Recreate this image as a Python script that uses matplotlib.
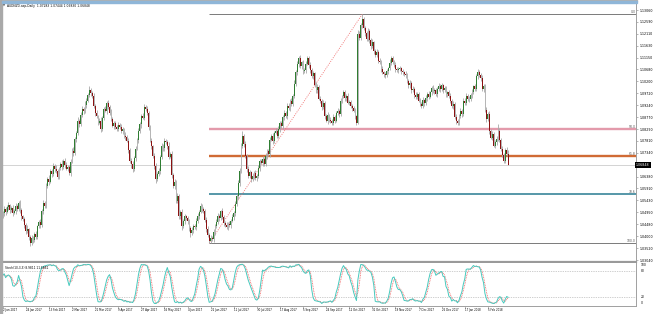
import numpy as np
import pandas as pd
import matplotlib
matplotlib.use("Agg")
import matplotlib.pyplot as plt
import matplotlib.transforms as mtransforms
from matplotlib.patches import Rectangle

title = "AUDNZD.asp,Daily  1.07283 1.07444 1.06830 1.06848"
stoch_title = "Stoch(10,3,3) 8.9811 11.5661"

# daily closes, one per bar (open = previous close)
first_open = 1.0480
closes = [
    1.0492, 1.0510, 1.0498, 1.0515, 1.0524, 1.0503, 1.0512, 1.0494, 1.0500, 1.0521,
    1.0509, 1.0532, 1.0505, 1.0480, 1.0468, 1.0445, 1.0419, 1.0428, 1.0396, 1.0371,
    1.0392, 1.0384, 1.0407, 1.0398, 1.0440, 1.0456, 1.0445, 1.0502, 1.0534, 1.0521,
    1.0601, 1.0629, 1.0618, 1.0661, 1.0647, 1.0681, 1.0670, 1.0660, 1.0638, 1.0672,
    1.0689, 1.0676, 1.0701, 1.0684, 1.0669, 1.0677, 1.0653, 1.0698, 1.0742, 1.0731,
    1.0790, 1.0812, 1.0863, 1.0849, 1.0885, 1.0911, 1.0902, 1.0926, 1.0943, 1.0967,
    1.0984, 1.0975, 1.0963, 1.0921, 1.0895, 1.0880, 1.0855, 1.0862, 1.0831, 1.0874,
    1.0911, 1.0903, 1.0935, 1.0918, 1.0895, 1.0870, 1.0843, 1.0852, 1.0838, 1.0831,
    1.0846, 1.0839, 1.0820, 1.0828, 1.0802, 1.0796, 1.0782, 1.0745, 1.0701, 1.0690,
    1.0669, 1.0712, 1.0750, 1.0783, 1.0822, 1.0848, 1.0883, 1.0874, 1.0919, 1.0908,
    1.0895, 1.0836, 1.0782, 1.0760, 1.0722, 1.0680, 1.0629, 1.0648, 1.0661, 1.0718,
    1.0762, 1.0751, 1.0782, 1.0775, 1.0762, 1.0718, 1.0730, 1.0645, 1.0601, 1.0618,
    1.0540, 1.0560, 1.0480, 1.0496, 1.0440, 1.0459, 1.0480, 1.0471, 1.0460, 1.0432,
    1.0411, 1.0425, 1.0440, 1.0436, 1.0462, 1.0480, 1.0497, 1.0520, 1.0508, 1.0500,
    1.0466, 1.0428, 1.0405, 1.0379, 1.0394, 1.0387, 1.0416, 1.0440, 1.0458, 1.0480,
    1.0471, 1.0500, 1.0478, 1.0452, 1.0445, 1.0436, 1.0450, 1.0444, 1.0462, 1.0475,
    1.0492, 1.0530, 1.0560, 1.0612, 1.0661, 1.0762, 1.0802, 1.0770, 1.0722, 1.0668,
    1.0641, 1.0655, 1.0629, 1.0640, 1.0653, 1.0632, 1.0641, 1.0672, 1.0701, 1.0693,
    1.0710, 1.0688, 1.0722, 1.0741, 1.0728, 1.0785, 1.0802, 1.0781, 1.0815, 1.0822,
    1.0801, 1.0831, 1.0852, 1.0840, 1.0878, 1.0895, 1.0881, 1.0923, 1.0914, 1.0943,
    1.0929, 1.0963, 1.1010, 1.1056, 1.1090, 1.1113, 1.1080, 1.1096, 1.1062, 1.1064,
    1.1091, 1.1113, 1.1087, 1.1064, 1.1040, 1.1052, 1.1004, 1.0985, 1.0999, 1.0951,
    1.0943, 1.0918, 1.0935, 1.0880, 1.0863, 1.0884, 1.0866, 1.0860, 1.0855, 1.0877,
    1.0863, 1.0894, 1.0903, 1.0890, 1.0943, 1.0961, 1.0976, 1.0952, 1.0963, 1.0935,
    1.0937, 1.0923, 1.0912, 1.0903, 1.0880, 1.0855, 1.1210, 1.1195, 1.1245, 1.1268,
    1.1232, 1.1215, 1.1190, 1.1221, 1.1185, 1.1160, 1.1176, 1.1140, 1.1125, 1.1138,
    1.1103, 1.1096, 1.1070, 1.1056, 1.1050, 1.1044, 1.1060, 1.1072, 1.1095, 1.1113,
    1.1098, 1.1084, 1.1070, 1.1064, 1.1069, 1.1072, 1.1061, 1.1056, 1.1049, 1.1044,
    1.1021, 1.1004, 1.1015, 1.0984, 1.0990, 1.0966, 1.0958, 1.0970, 1.0943, 1.0930,
    1.0923, 1.0945, 1.0932, 1.0955, 1.0970, 1.0958, 1.0976, 1.0995, 1.0980, 1.0985,
    1.0970, 1.0990, 1.1002, 1.0989, 1.1004, 1.0985, 1.0992, 1.0968, 1.0976, 1.0960,
    1.0943, 1.0920, 1.0931, 1.0878, 1.0862, 1.0855, 1.0881, 1.0903, 1.0890, 1.0943,
    1.0935, 1.0963, 1.0948, 1.0951, 1.0964, 1.0976, 1.1001, 1.0990, 1.1040, 1.1056,
    1.1045, 1.1032, 1.0988, 1.1002, 1.0905, 1.0871, 1.0890, 1.0822, 1.0795, 1.0810,
    1.0762, 1.0776, 1.0790, 1.0822, 1.0786, 1.0750, 1.0725, 1.0701, 1.0745, 1.0728, 1.06848,
]
# wick above / below the body, in pips
up_wick = [
    8, 12, 6, 10, 14, 5, 9, 11, 7, 13, 6, 9, 12, 8, 5, 10, 7, 15, 6, 9,
    11, 7, 8, 12, 6, 9, 14, 8, 10, 7, 12, 6, 15, 9, 8, 11, 7, 13, 10, 6,
    9, 14, 7, 10, 12, 6, 8, 11, 9, 15, 7, 10, 13, 8, 12, 9, 6, 14, 10, 8,
    16, 9, 7, 12, 8, 10, 6, 11, 14, 9, 8, 12, 7, 10, 9, 13, 6, 8, 11, 7,
    10, 6, 12, 9, 7, 14, 8, 10, 6, 12, 9, 7, 11, 8, 13, 10, 6, 12, 9, 8,
    14, 7, 10, 12, 6, 9, 11, 8, 13, 7, 10, 8, 12, 6, 9, 14, 7, 11, 8, 10,
    6, 12, 9, 7, 13, 8, 10, 6, 11, 9, 8, 12, 7, 10, 9, 11, 6, 13, 8, 10,
    7, 9, 12, 6, 10, 8, 11, 7, 9, 12, 10, 6, 13, 8, 9, 11, 7, 10, 8, 12,
    9, 11, 7, 14, 10, 12, 18, 8, 10, 6, 11, 9, 7, 12, 8, 10, 6, 13, 9, 7,
    10, 8, 12, 6, 9, 11, 7, 10, 8, 12, 6, 10, 9, 11, 7, 12, 8, 10, 9, 6,
    11, 8, 14, 10, 12, 9, 13, 7, 10, 8, 12, 9, 7, 11, 8, 10, 6, 12, 9, 7,
    10, 8, 11, 7, 9, 12, 6, 10, 8, 11, 9, 7, 12, 8, 10, 6, 11, 9, 7, 12,
    8, 10, 6, 11, 9, 7, 15, 12, 10, 21, 9, 11, 7, 13, 8, 10, 12, 6, 9, 11,
    7, 10, 8, 12, 6, 9, 11, 7, 13, 8, 10, 6, 12, 8, 9, 11, 7, 10, 6, 12,
    9, 7, 11, 8, 10, 6, 12, 9, 7, 10, 8, 11, 6, 10, 9, 12, 7, 8, 11, 9,
    10, 7, 12, 8, 9, 6, 11, 10, 7, 9, 12, 8, 10, 6, 11, 9, 7, 12, 8, 10,
    9, 11, 7, 10, 8, 12, 6, 9, 11, 13, 8, 10, 12, 7, 9, 11, 6, 10, 8, 12,
    9, 7, 11, 28, 10, 8, 12, 9, 7, 10, 16,
]
dn_wick = [
    7, 10, 12, 6, 9, 11, 8, 13, 6, 10, 9, 7, 11, 14, 8, 12, 10, 6, 13, 9,
    8, 12, 7, 10, 9, 6, 11, 8, 12, 7, 10, 9, 13, 7, 11, 8, 12, 6, 10, 9,
    7, 11, 8, 12, 6, 10, 9, 13, 7, 11, 8, 12, 6, 10, 9, 7, 13, 8, 11, 6,
    9, 12, 10, 7, 13, 8, 11, 6, 14, 9, 10, 7, 12, 8, 11, 9, 6, 13, 10, 8,
    11, 9, 7, 12, 8, 10, 6, 13, 9, 16, 12, 8, 10, 7, 11, 9, 13, 6, 10, 8,
    9, 12, 7, 11, 8, 13, 15, 10, 7, 12, 8, 11, 9, 6, 12, 10, 7, 13, 8, 11,
    9, 7, 12, 10, 14, 8, 11, 6, 10, 12, 13, 8, 11, 7, 10, 9, 12, 6, 11, 8,
    10, 12, 9, 8, 6, 7, 10, 12, 6, 9, 11, 8, 10, 13, 7, 9, 12, 8, 10, 7,
    9, 11, 8, 10, 12, 7, 9, 13, 10, 11, 8, 10, 12, 7, 11, 9, 13, 8, 10, 6,
    11, 9, 7, 12, 8, 10, 6, 11, 9, 7, 10, 8, 12, 6, 9, 11, 7, 10, 8, 12,
    9, 7, 11, 8, 10, 12, 6, 9, 11, 8, 10, 7, 12, 9, 8, 11, 6, 10, 12, 7,
    9, 11, 8, 10, 7, 12, 9, 6, 11, 8, 10, 7, 9, 12, 8, 11, 6, 10, 9, 7,
    11, 8, 10, 6, 12, 9, 7, 11, 8, 10, 7, 12, 9, 8, 11, 10, 6, 12, 9, 7,
    10, 8, 11, 7, 12, 9, 6, 10, 8, 11, 9, 7, 12, 8, 10, 6, 11, 9, 7, 12,
    8, 10, 9, 11, 7, 12, 8, 10, 6, 9, 11, 8, 10, 7, 12, 9, 6, 11, 8, 10,
    7, 12, 9, 10, 8, 11, 6, 9, 12, 8, 10, 7, 11, 9, 12, 8, 10, 6, 11, 9,
    8, 10, 7, 12, 9, 11, 6, 10, 8, 12, 9, 11, 8, 10, 7, 12, 9, 11, 8, 10,
    7, 9, 12, 8, 10, 11, 9, 8, 10, 7, 2,
]

price_ticks = [1.13060, 1.12590, 1.12110, 1.11630, 1.11150, 1.10680, 1.10200,
               1.09720, 1.09240, 1.08770, 1.08290, 1.07810, 1.07340, 1.06380,
               1.05910, 1.05430, 1.04950, 1.04480, 1.04000, 1.03520, 1.03040]
date_labels = ["2 Jan 2017", "24 Jan 2017", "13 Feb 2017", "2 Mar 2017", "21 Mar 2017",
               "9 Apr 2017", "27 Apr 2017", "16 May 2017", "4 Jun 2017", "22 Jun 2017",
               "11 Jul 2017", "30 Jul 2017", "17 Aug 2017", "5 Sep 2017", "24 Sep 2017",
               "12 Oct 2017", "31 Oct 2017", "19 Nov 2017", "7 Dec 2017", "26 Dec 2017",
               "17 Jan 2018", "5 Feb 2018"]
label_every = 16  # bars between date labels

fib_levels = [0.0, 50.0, 61.8, 78.6, 100.0]
fib_anchor_bars = [143, 249]
fib_anchor_prices = [1.0371, 1.1289]
last_price = 1.06848
stoch_levels = [80, 20]

# ---- OHLC ----
c = np.array(closes)
o = np.concatenate([[first_open], c[:-1]])
h = np.maximum(o, c) + np.array(up_wick) / 10000
l = np.minimum(o, c) - np.array(dn_wick) / 10000
x = np.arange(len(c))

# stochastic 10,3,3
hs, ls_, cs = pd.Series(h), pd.Series(l), pd.Series(c)
ll = ls_.rolling(10, min_periods=1).min()
hh = hs.rolling(10, min_periods=1).max()
k = 100 * (cs - ll).rolling(3, min_periods=1).sum() / (hh - ll).rolling(3, min_periods=1).sum()
d = k.rolling(3, min_periods=1).mean()

W, H = 653, 314
fig = plt.figure(figsize=(W / 100, H / 100), dpi=100)
fig.patch.set_facecolor("white")

def box(x0, y0, x1, y1):
    return [x0 / W, 1 - y1 / H, (x1 - x0) / W, (y1 - y0) / H]

ax = fig.add_axes(box(2, 3, 636, 261.5))
ax2 = fig.add_axes(box(2, 262.5, 636, 305.5))

xmax = 438.6
for a in (ax, ax2):
    a.set_xlim(-0.5, xmax)
    a.set_facecolor("white")
    for s in a.spines.values():
        s.set_color("#a0a0a0")
        s.set_linewidth(0.7)
    a.spines["top"].set_visible(False)
    a.spines["left"].set_visible(False)

ax.set_ylim(1.02980, 1.13341)
ax.spines["bottom"].set_linewidth(1.6)
ax.spines["bottom"].set_color("#9a9a9a")

# current price line
ax.axhline(last_price, color="#cccccc", lw=0.6, zorder=1)

# fibonacci
lo, hi = fib_anchor_prices
fib_colors = ["#7a7a7a", "#e39aab", "#d06b35", "#5597a8", "#7a7a7a"]
fib_widths = [0.7, 1.7, 1.7, 1.4, 0.7]
for lvl, col, lw in zip(fib_levels, fib_colors, fib_widths):
    p = hi - lvl / 100 * (hi - lo)
    ax.plot([fib_anchor_bars[0], xmax], [p, p], color=col, lw=lw, zorder=2,
            solid_capstyle="butt")
    ax.text(0.999, p, f"{lvl:.1f}", transform=mtransforms.blended_transform_factory(ax.transAxes, ax.transData),
            ha="right", va="bottom", fontsize=2.2, color="#505050")
ax.plot(fib_anchor_bars, [lo, hi], color="#f07070", lw=0.6, ls=(0, (1.2, 1.5)), zorder=3)

# candles
up = c >= o
ax.vlines(x, l, h, color="#a8a8a8", lw=0.6, zorder=4)
body = np.maximum(np.abs(c - o), 0.00006)
ax.bar(x[up], body[up], bottom=np.minimum(o, c)[up], width=0.62, color="#2f7d32", lw=0, zorder=5)
ax.bar(x[~up], body[~up], bottom=np.minimum(o, c)[~up], width=0.62, color="#8b1212", lw=0, zorder=5)

# price axis
ax.yaxis.tick_right()
ax.set_yticks(price_ticks)
ax.set_yticklabels([f"{v:.5f}" for v in price_ticks])
ax.tick_params(axis="y", labelsize=2.3, length=1.5, width=0.4, color="#808080", pad=1.2)
ax.set_xticks([])
ax.text(1.0, last_price, f"{last_price:.5f}",
        transform=mtransforms.blended_transform_factory(ax.transAxes, ax.transData),
        ha="left", va="center", fontsize=2.3, color="white",
        bbox=dict(facecolor="black", edgecolor="none", pad=0.7))

fig.text(7 / W, 1 - 5.5 / H, title, fontsize=2.2, va="center", ha="left")
fig.text(3 / W, 1 - 5.5 / H, "\u25bc", fontsize=1.8, va="center", ha="left", color="#303030")

# stochastic panel
ax2.set_ylim(0, 100)
for lv in stoch_levels:
    ax2.axhline(lv, color="#a0a0a0", lw=0.5, ls=(0, (1, 1.5)))
ax2.plot(x, k, color="#46c9bd", lw=0.7, zorder=3)
ax2.plot(x, d, color="#f05a5a", lw=0.6, ls=(0, (1, 1)), zorder=2)
ax2.set_yticks([])
tr2 = mtransforms.blended_transform_factory(ax2.transAxes, ax2.transData)
for v, va in [(100, "top"), (80, "center"), (20, "center"), (0, "bottom")]:
    ax2.text(1.008, v, str(v), transform=tr2, fontsize=2.2, va=va, ha="left")
ax2.text(0.004, 0.93, stoch_title, transform=ax2.transAxes, fontsize=2.1, va="top", ha="left")

ticks = [i * label_every for i in range(len(date_labels))]
ax2.set_xticks(ticks)
ax2.set_xticklabels([])
ax2.tick_params(axis="x", length=1.2, width=0.4, color="#808080")
trx = mtransforms.blended_transform_factory(ax2.transData, ax2.transAxes)
for t, lab in zip(ticks, date_labels):
    ax2.text(t, -0.06, lab, transform=trx, fontsize=1.9, va="top", ha="left")

# window frame bits
fig.patches.append(Rectangle((0, 0), 2 / W, 1, transform=fig.transFigure, color="#a9a9a9", zorder=10))
fig.patches.append(Rectangle((2 / W, 1 - 1 / H), 635 / W, 1 / H, transform=fig.transFigure, color="#b0b0b0", zorder=10))
fig.patches.append(Rectangle((2 / W, 1 - 2.6 / H), 635 / W, 1.6 / H, transform=fig.transFigure, color="#8fb6d8", zorder=10))

fig.savefig("out.png", dpi=100, facecolor="white")
